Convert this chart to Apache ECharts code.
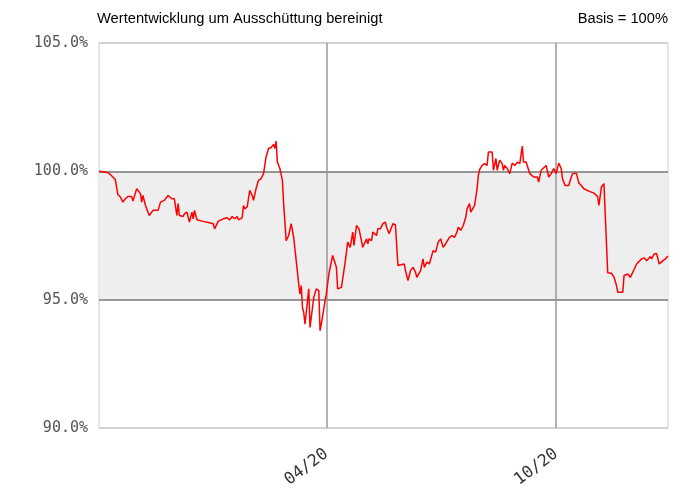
<!DOCTYPE html>
<html>
<head>
<meta charset="utf-8">
<script src="https://cdn.jsdelivr.net/npm/echarts@6/dist/echarts.min.js"></script>
<style>html,body{margin:0;padding:0;background:#fff;}#c{width:680px;height:493px;}</style>
</head>
<body>
<div id="c"></div>
<script>
const dates = [
'2019-10-03','2019-10-10','2019-10-12','2019-10-16','2019-10-18','2019-10-20','2019-10-22','2019-10-24','2019-10-26','2019-10-29','2019-10-30',
'2019-11-02','2019-11-05','2019-11-06','2019-11-07','2019-11-09','2019-11-12','2019-11-13','2019-11-15','2019-11-19','2019-11-21','2019-11-22','2019-11-24','2019-11-27','2019-11-30',
'2019-12-02','2019-12-04','2019-12-05','2019-12-06','2019-12-09','2019-12-10','2019-12-12','2019-12-14','2019-12-16','2019-12-17','2019-12-18','2019-12-20','2019-12-24','2019-12-29',
'2020-01-02','2020-01-03','2020-01-06','2020-01-10','2020-01-13','2020-01-14','2020-01-15','2020-01-17','2020-01-19','2020-01-21','2020-01-22','2020-01-25','2020-01-26','2020-01-27','2020-01-29','2020-01-31',
'2020-02-02','2020-02-03','2020-02-05','2020-02-07','2020-02-09','2020-02-11','2020-02-13','2020-02-15','2020-02-17','2020-02-19','2020-02-20','2020-02-21','2020-02-22','2020-02-24','2020-02-26','2020-02-27','2020-02-29',
'2020-03-02','2020-03-03','2020-03-04','2020-03-06','2020-03-08','2020-03-10','2020-03-11','2020-03-12','2020-03-13','2020-03-14','2020-03-15','2020-03-16','2020-03-18','2020-03-19','2020-03-20','2020-03-22','2020-03-24','2020-03-26','2020-03-27','2020-03-28','2020-03-31',
'2020-04-01','2020-04-03','2020-04-06','2020-04-09','2020-04-10','2020-04-13','2020-04-16','2020-04-18','2020-04-20','2020-04-22','2020-04-23','2020-04-25','2020-04-27','2020-04-30',
'2020-05-03','2020-05-04','2020-05-05','2020-05-07','2020-05-08','2020-05-11','2020-05-12','2020-05-14','2020-05-16','2020-05-18','2020-05-19','2020-05-21','2020-05-24','2020-05-26','2020-05-28',
'2020-06-02','2020-06-03','2020-06-05','2020-06-07','2020-06-09','2020-06-11','2020-06-12','2020-06-15','2020-06-17','2020-06-18','2020-06-20','2020-06-22','2020-06-25','2020-06-27','2020-06-29',
'2020-07-01','2020-07-03','2020-07-05','2020-07-08','2020-07-10','2020-07-12','2020-07-14','2020-07-15','2020-07-17','2020-07-19','2020-07-21','2020-07-22','2020-07-24','2020-07-25','2020-07-26','2020-07-28','2020-07-30','2020-07-31',
'2020-08-01','2020-08-03','2020-08-05','2020-08-07','2020-08-08','2020-08-11','2020-08-12','2020-08-14','2020-08-15','2020-08-17','2020-08-19','2020-08-20','2020-08-21','2020-08-23','2020-08-25','2020-08-27','2020-08-29','2020-08-31',
'2020-09-02','2020-09-04','2020-09-05','2020-09-07','2020-09-10','2020-09-13','2020-09-16','2020-09-17','2020-09-19','2020-09-23','2020-09-25','2020-09-27','2020-09-29',
'2020-10-01','2020-10-03','2020-10-05','2020-10-06','2020-10-08','2020-10-11','2020-10-13','2020-10-14','2020-10-17','2020-10-19','2020-10-21','2020-10-23','2020-10-27','2020-10-31',
'2020-11-03','2020-11-04','2020-11-06','2020-11-08','2020-11-09','2020-11-11','2020-11-14','2020-11-16','2020-11-18','2020-11-19','2020-11-23','2020-11-24','2020-11-27','2020-11-29',
'2020-12-01','2020-12-04','2020-12-08','2020-12-10','2020-12-12','2020-12-15','2020-12-16','2020-12-18','2020-12-20','2020-12-22','2020-12-25','2020-12-27','2020-12-29'
];
const values = [
100.0, 99.95, 99.88, 99.68, 99.10, 99.00, 98.80, 98.93, 99.02, 99.02, 98.84,
99.32, 99.13, 98.80, 99.06, 98.67, 98.28, 98.24, 98.48, 98.48, 98.80, 98.74, 98.87, 99.06, 98.93,
98.93, 98.28, 98.74, 98.28, 98.24, 98.35, 98.41, 98.02, 98.41, 98.15, 98.48, 98.11, 98.06, 98.01,
97.96, 97.76, 98.06, 98.15, 98.19, 98.24, 98.11, 98.24, 98.15, 98.24, 98.11, 98.19, 98.67, 98.54, 98.61, 99.26,
99.06, 98.87, 99.32, 99.65, 99.71, 99.91, 100.56, 100.89, 100.93, 101.05, 100.89, 101.18, 100.36, 100.11, 99.65, 98.74, 97.30,
97.50, 97.57, 97.96, 97.43, 96.52, 95.61, 95.22, 95.55, 94.70, 94.50, 94.05, 93.98, 95.42, 93.92, 93.92, 95.09, 95.42, 95.35, 93.79, 94.05, 94.96,
95.22, 96.00, 96.72, 96.26, 95.42, 95.48, 96.46, 97.24, 97.04, 97.63, 97.11, 97.89, 97.76, 97.04,
97.37, 97.18, 97.37, 97.30, 97.63, 97.50, 97.76, 97.76, 97.96, 98.02, 97.82, 97.57, 97.96, 97.92, 96.33,
96.39, 96.13, 95.74, 96.13, 96.26, 96.07, 95.87, 96.13, 96.59, 96.26, 96.46, 96.39, 96.91, 96.85, 97.24,
97.37, 97.04, 97.18, 97.43, 97.50, 97.43, 97.63, 97.82, 97.70, 97.89, 98.21, 98.54, 98.74, 98.41, 98.48, 98.67, 99.32, 99.84,
100.07, 100.23, 100.30, 100.23, 100.75, 100.75, 100.04, 100.50, 100.04, 100.43, 100.30, 100.04, 100.23, 100.11, 99.91, 100.32, 100.23, 100.36,
100.30, 100.98, 100.36, 100.36, 99.91, 99.78, 99.78, 99.58, 100.04, 100.23, 99.78, 99.91, 100.11,
99.91, 100.32, 100.11, 99.71, 99.45, 99.45, 99.78, 99.91, 99.93, 99.55, 99.45, 99.32, 99.23, 99.15,
99.02, 98.67, 99.39, 99.52, 99.52, 96.05, 96.03, 95.88, 95.55, 95.29, 95.29, 95.94, 96.00, 95.87,
96.07, 96.39, 96.59, 96.63, 96.52, 96.68, 96.59, 96.79, 96.79, 96.39, 96.52, 96.59, 96.70
];
const xStart = '2019-10-03';
const xEnd = '2020-12-29';
const tickDates = ['2020-04-01', '2020-10-01'];
const tickLabels = ['04/20', '10/20'];
const yTicks = [90, 95, 100, 105];
const subtitleLeft = 'Wertentwicklung um Ausschüttung bereinigt';
const subtitleRight = 'Basis = 100%';

function ts(s) { const p = s.split('-').map(Number); return new Date(p[0], p[1] - 1, p[2]).getTime(); }
const tickTs = tickDates.map(ts);
const seriesData = dates.map((d, i) => [ts(d), values[i]]);

const chart = echarts.init(document.getElementById('c'), null, { renderer: 'canvas' });
chart.setOption({
  animation: false,
  backgroundColor: '#fff',
  title: [
    { text: subtitleLeft, left: 97, top: 11, padding: 0,
      textStyle: { fontFamily: 'Liberation Sans', fontSize: 14.7, fontWeight: 'normal', color: '#000' } },
    { text: subtitleRight, right: 12, top: 11, padding: 0,
      textStyle: { fontFamily: 'Liberation Sans', fontSize: 14.7, fontWeight: 'normal', color: '#000' } }
  ],
  grid: { left: 99, right: 12, top: 43, bottom: 65, show: true, borderColor: '#cccccc', borderWidth: 1, backgroundColor: 'transparent' },
  xAxis: {
    type: 'value',
    min: ts(xStart), max: ts(xEnd),
    axisLine: { show: false },
    axisTick: { show: false, customValues: tickTs },
    axisLabel: {
      customValues: tickTs,
      rotate: 37, margin: 24,
      fontFamily: 'DejaVu Sans Mono', fontSize: 16.5, color: '#333',
      formatter: function (v) { const i = tickTs.indexOf(v); return i >= 0 ? tickLabels[i] : ''; }
    },
    splitLine: { show: true, lineStyle: { color: '#999', width: 1.5 } }
  },
  yAxis: {
    type: 'value', min: yTicks[0], max: yTicks[yTicks.length - 1], interval: 5,
    axisLine: { show: false }, axisTick: { show: false },
    axisLabel: { margin: 11, fontFamily: 'DejaVu Sans Mono', fontSize: 15, color: '#555',
      formatter: v => v.toFixed(1) + '%' },
    splitLine: { show: true, lineStyle: { color: ['#cccccc', '#777777', '#777777', '#cccccc'], width: 1.5 } },
    splitArea: { show: true, areaStyle: { color: ['rgba(255,255,255,0)', '#eeeeee', 'rgba(255,255,255,0)'] } }
  },
  series: [{
    type: 'line', data: seriesData, showSymbol: false, symbol: 'none',
    lineStyle: { color: '#ff0000', width: 1.5 }, z: 5
  }]
});
</script>
</body>
</html>
